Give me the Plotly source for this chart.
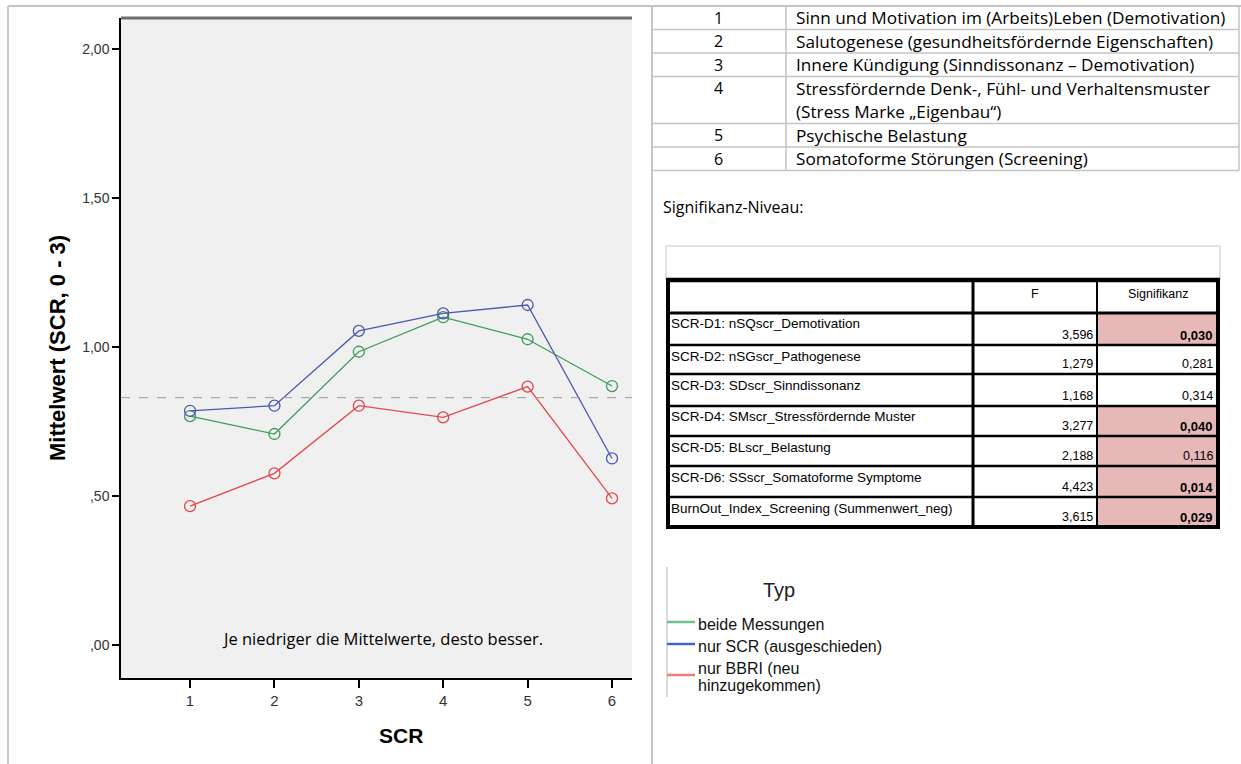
import plotly.graph_objects as go

W, H = 1241, 764

# ---------------- data ----------------
SCR = [1, 2, 3, 4, 5, 6]
beide_messungen = [0.768, 0.708, 0.984, 1.100, 1.026, 0.869]
nur_scr = [0.786, 0.803, 1.054, 1.113, 1.141, 0.626]
nur_bbri = [0.466, 0.576, 0.803, 0.764, 0.867, 0.492]
reference_mean = 0.83

series_names = ["beide Messungen", "nur SCR (ausgeschieden)", "nur BBRI (neu\nhinzugekommen)"]

y_tickvals = [0.0, 0.5, 1.0, 1.5, 2.0]
y_ticktext = [",00", ",50", "1,00", "1,50", "2,00"]

scale_numbers = ["1", "2", "3", "4", "5", "6"]
scale_descriptions = [
    "Sinn und Motivation im (Arbeits)Leben (Demotivation)",
    "Salutogenese (gesundheitsfördernde Eigenschaften)",
    "Innere Kündigung (Sinndissonanz – Demotivation)",
    "Stressfördernde Denk-, Fühl- und Verhaltensmuster\n(Stress Marke „Eigenbau“)",
    "Psychische Belastung",
    "Somatoforme Störungen (Screening)",
]

sig_labels = [
    "SCR-D1: nSQscr_Demotivation",
    "SCR-D2: nSGscr_Pathogenese",
    "SCR-D3: SDscr_Sinndissonanz",
    "SCR-D4: SMscr_Stressfördernde Muster",
    "SCR-D5: BLscr_Belastung",
    "SCR-D6: SSscr_Somatoforme Symptome",
    "BurnOut_Index_Screening (Summenwert_neg)",
]
sig_F = ["3,596", "1,279", "1,168", "3,277", "2,188", "4,423", "3,615"]
sig_p = ["0,030", "0,281", "0,314", "0,040", "0,116", "0,014", "0,029"]
sig_headers = ["F", "Signifikanz"]

# ---------------- styling ----------------
line_colors = ["#3f9b5d", "#4859b1", "#e2484d"]
legend_colors = ["#6fc08a", "#4a5fc8", "#f07a7e"]
calibri_like = "Open Sans"
arial_like = "Liberation Sans"


def px(x):
    return x / W


def py(y):
    return 1 - y / H


fig = go.Figure()
for name, vals, col in zip(series_names, [beide_messungen, nur_scr, nur_bbri], line_colors):
    fig.add_trace(go.Scatter(
        x=SCR, y=vals, mode="lines+markers", name=name.replace("\n", " "),
        line=dict(color=col, width=1.3),
        marker=dict(symbol="circle-open", size=11, color=col, line=dict(width=1.3, color=col)),
        showlegend=False, hoverinfo="skip",
    ))

shapes = []
annotations = []


def hline(x0, x1, y, color, width):
    shapes.append(dict(type="line", xref="paper", yref="paper", x0=px(x0), x1=px(x1),
                       y0=py(y), y1=py(y), line=dict(color=color, width=width)))


def vline(x, y0, y1, color, width):
    shapes.append(dict(type="line", xref="paper", yref="paper", x0=px(x), x1=px(x),
                       y0=py(y0), y1=py(y1), line=dict(color=color, width=width)))


def rect(x0, y0, x1, y1, fill):
    shapes.append(dict(type="rect", xref="paper", yref="paper", x0=px(x0), x1=px(x1),
                       y0=py(y0), y1=py(y1), fillcolor=fill, line=dict(width=0), layer="below"))


def text(t, x, y, size, family, color="#000000", xanchor="left", yanchor="middle", bold=False, angle=0):
    if bold:
        t = "<b>" + t + "</b>"
    annotations.append(dict(text=t, x=px(x), y=py(y), xref="paper", yref="paper",
                            xanchor=xanchor, yanchor=yanchor, showarrow=False, textangle=angle,
                            font=dict(size=size, family=family, color=color)))


# reference dashed line
shapes.append(dict(type="line", xref="x domain", yref="y", x0=0, x1=1, y0=reference_mean, y1=reference_mean,
                   line=dict(color="#9a9a9a", width=1, dash="dash")))

# page borders
grey = "#c4c4c4"
hline(8, 1241, 6, grey, 2)
vline(8, 6, 764, grey, 2)
vline(652, 6, 764, grey, 2)

# plot top border
hline(121, 632, 18, "#6e6e6e", 3)

# axis titles and note
text("Mittelwert (SCR, 0 - 3)", 57, 348, 22, arial_like, bold=True, xanchor="center", angle=-90)
text("SCR", 401, 735, 21, arial_like, bold=True, xanchor="center")
text("Je niedriger die Mittelwerte, desto besser.", 382, 638, 16.5, calibri_like, xanchor="center")

# ---------- table 1 (scales) ----------
row_b = [6, 29.5, 53, 76.5, 123.5, 147, 170.5]
for yb in row_b[1:]:
    hline(652, 1239, yb, grey, 1.5)
vline(786, 6, 170.5, grey, 1.5)
vline(1239, 6, 170.5, grey, 1.5)
for i, (num, desc) in enumerate(zip(scale_numbers, scale_descriptions)):
    yc = row_b[i] + 11.75
    text(num, 718, yc, 16, calibri_like, xanchor="center")
    for j, line in enumerate(desc.split("\n")):
        text(line, 794, yc + 23.5 * j, 17.2, calibri_like)

text("Signifikanz-Niveau:", 661, 207, 16, calibri_like)

# ---------- significance table ----------
light = "#d9d9d9"
hline(666, 1220, 246, light, 1.5)
vline(666, 246, 280, light, 1.5)
vline(1220, 246, 280, light, 1.5)

L, C1, C2, R = 668, 973, 1097, 1218
top, head_b = 280, 313
rows = [313, 345, 374, 406, 436, 466, 497, 527]

for i, p in enumerate(sig_p):
    pv = float(p.replace(",", "."))
    if pv < 0.15:
        rect(C2, rows[i], R, rows[i + 1], "#e6b9b8")

for yb in rows[1:-1]:
    hline(L, R, yb, "#000000", 2.5)
hline(L, R, head_b, "#000000", 3)
hline(L - 2, R + 2, top, "#000000", 4.5)
hline(L - 2, R + 2, rows[-1], "#000000", 4)
vline(L, top, rows[-1], "#000000", 4)
vline(R, top, rows[-1], "#000000", 4)
vline(C1, top, rows[-1], "#000000", 3)
vline(C2, top, rows[-1], "#000000", 2)

text(sig_headers[0], (C1 + C2) / 2, 294, 12.5, arial_like, xanchor="center")
text(sig_headers[1], (C2 + R) / 2, 294, 12.5, arial_like, xanchor="center")
for i, (lab, f, p) in enumerate(zip(sig_labels, sig_F, sig_p)):
    r0, r1 = rows[i], rows[i + 1]
    text(lab, 669, r0 + 11, 13.5, arial_like)
    text(f, C1 + 122, r1 - 10, 12.5, arial_like, xanchor="right")
    pv = float(p.replace(",", "."))
    text(p, R - 3, r1 - 10, 13 if pv < 0.05 else 12.5, arial_like, xanchor="right", bold=pv < 0.05)

# ---------- legend ----------
vline(667, 567, 697, "#cfcfcf", 1.5)
text("Typ", 779, 590, 20, arial_like, color="#222222", xanchor="center")
leg_line_y = [622, 644, 675]
for name, col, ly in zip(series_names, legend_colors, leg_line_y):
    hline(667, 695, ly, col, 2.5)
    parts = name.split("\n")
    if len(parts) == 1:
        text(parts[0], 696, ly + 2, 16, arial_like, color="#111111")
    else:
        text(parts[0], 696, ly - 7, 16, arial_like, color="#111111")
        text(parts[1], 696, ly + 10, 16, arial_like, color="#111111")

fig.update_layout(
    width=W, height=H, margin=dict(l=0, r=0, t=0, b=0),
    paper_bgcolor="white", plot_bgcolor="#f0f0f0",
    showlegend=False,
    xaxis=dict(domain=[px(121), px(632)], range=[0.182, 6.237], tickvals=SCR,
               ticktext=[str(s) for s in SCR], ticks="outside", ticklen=8, tickwidth=1.5,
               tickcolor="#000000", showline=True, linecolor="#000000", linewidth=1.5,
               showgrid=False, zeroline=False, fixedrange=True,
               tickfont=dict(family=arial_like, size=15, color="#333333")),
    yaxis=dict(domain=[py(678), py(18)], range=[-0.1107, 2.104], tickvals=y_tickvals,
               ticktext=y_ticktext, ticks="outside", ticklen=7, tickwidth=1.5,
               tickcolor="#000000", showline=True, linecolor="#000000", linewidth=1.5,
               showgrid=False, zeroline=False, fixedrange=True,
               tickfont=dict(family=arial_like, size=14, color="#333333")),
    shapes=shapes, annotations=annotations,
)

fig.write_html("out.html", config={"displayModeBar": False},
               post_script="document.body.style.margin='0';")
